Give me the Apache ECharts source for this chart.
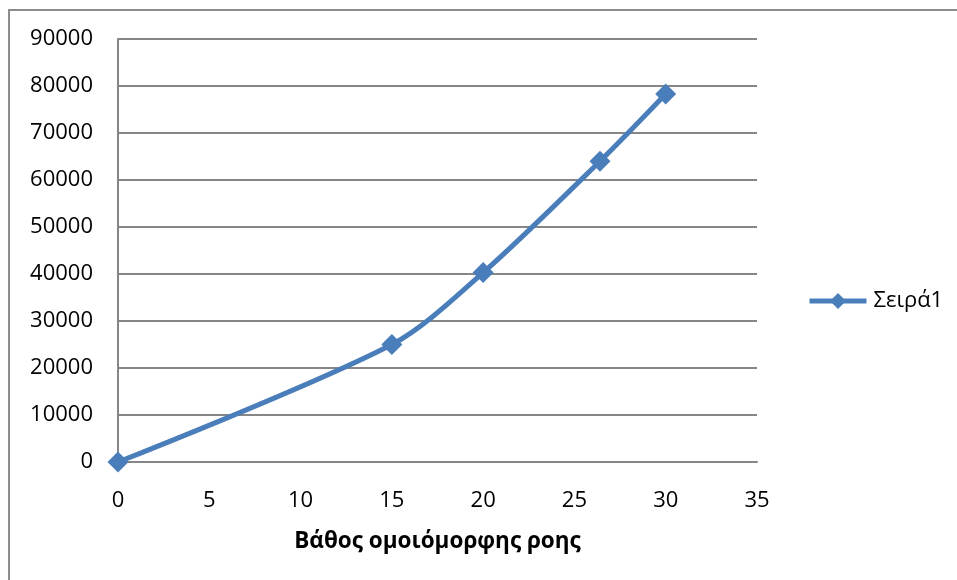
<!DOCTYPE html>
<html>
<head>
<meta charset="utf-8">
<script src="https://cdn.jsdelivr.net/npm/echarts@6/dist/echarts.min.js"></script>
<style>
html,body{margin:0;padding:0;background:#fff;}
#chart{width:957px;height:580px;}
</style>
</head>
<body>
<div id="chart"></div>
<script>
// Data
const seriesName = 'Σειρά1';
const xValues = [0, 15, 20, 26.4, 30];
const yValues = [0, 25000, 40300, 64000, 78300];
const xAxisTitle = 'Βάθος ομοιόμορφης ροης';

const FONT = '"Open Sans", "Noto Sans", sans-serif';
const chart = echarts.init(document.getElementById('chart'), null, {renderer: 'canvas'});
chart.setOption({
  backgroundColor: '#ffffff',
  animation: false,
  graphic: [{
    type: 'rect',
    shape: {x: 9, y: 10, width: 960, height: 590},
    style: {fill: 'none', stroke: '#8c8c8c', lineWidth: 2},
    silent: true
  }],
  grid: {left: 118, top: 39, width: 639, height: 423, containLabel: false},
  legend: {
    data: [seriesName],
    left: 802,
    top: 285,
    itemWidth: 57,
    itemHeight: 20,
    itemGap: 4,
    lineStyle: {width: 5, color: '#4a7ebb'},
    itemStyle: {color: '#4a7ebb'},
    textStyle: {fontFamily: FONT, fontSize: 22, color: '#000', padding: [0, 0, 0, 2]}
  },
  xAxis: {
    type: 'value',
    min: 0, max: 35, interval: 5,
    name: xAxisTitle,
    nameLocation: 'middle',
    nameGap: 68,
    nameTextStyle: {fontFamily: FONT, fontSize: 22.5, fontWeight: 'bold', color: '#000'},
    axisLine: {show: true, lineStyle: {color: '#868686', width: 2}},
    axisTick: {show: false},
    splitLine: {show: false},
    axisLabel: {fontFamily: FONT, fontSize: 22, color: '#000', margin: 28}
  },
  yAxis: {
    type: 'value',
    min: 0, max: 90000, interval: 10000,
    axisLine: {show: true, lineStyle: {color: '#868686', width: 2}},
    axisTick: {show: false},
    splitLine: {show: true, lineStyle: {color: '#868686', width: 2}},
    axisLabel: {fontFamily: FONT, fontSize: 22, color: '#000', margin: 25,
      formatter: v => String(v)}
  },
  series: [{
    name: seriesName,
    type: 'line',
    smooth: 0.3,
    data: xValues.map((x, i) => [x, yValues[i]]),
    symbol: 'diamond',
    symbolSize: 21,
    lineStyle: {color: '#4a7ebb', width: 5},
    itemStyle: {color: '#4a7ebb'}
  }]
});
</script>
</body>
</html>
